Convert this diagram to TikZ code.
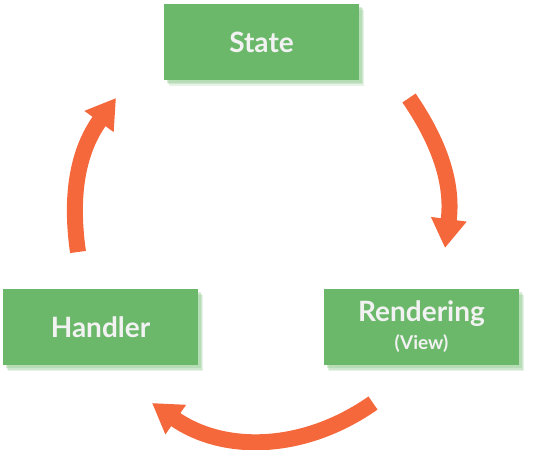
\documentclass[tikz,border=0pt]{standalone}
\usepackage{fontspec}
\setmainfont{Lato}
\usetikzlibrary{arrows.meta,shadows}

\definecolor{boxgreen}{RGB}{107,184,107}
\definecolor{shadegreen}{RGB}{150,205,150}
\definecolor{loopred}{RGB}{245,104,60}
\definecolor{textwhite}{RGB}{242,242,242}

\tikzset{
    stage/.style={fill=boxgreen, minimum width=195pt, minimum height=76pt,
        inner sep=0pt, text=textwhite, align=center,
        font=\bfseries\fontsize{28}{30}\selectfont,
        drop shadow={shadow xshift=5pt, shadow yshift=-6pt, fill=shadegreen, opacity=0.25},
        drop shadow={shadow xshift=4pt, shadow yshift=-4.5pt, fill=shadegreen, opacity=0.3},
        drop shadow={shadow xshift=2.5pt, shadow yshift=-3pt, fill=shadegreen, opacity=0.4}},
    flow/.style={draw=loopred, line width=16pt,
        -{Triangle[width=34pt, length=29pt]}}
}

\begin{document}
\begin{tikzpicture}[x=1pt, y=1pt]
    \useasboundingbox (0, 0) rectangle (534, -449);

    \node[stage] (state) at (261.5, -42) {State};
    \node[stage] (handler) at (100.5, -327) {Handler};
    \node[stage] (render) at (421.5, -327)
        {Rendering\\[-2pt]{\fontsize{19}{22}\selectfont(View)}};

    \coordinate (rtail) at (409, -98);
    \coordinate (rtip) at (445, -248);
    \coordinate (btail) at (373, -403);
    \coordinate (btip) at (152, -403);
    \coordinate (ltail) at (78, -252);
    \coordinate (ltip) at (116, -98);

    \draw[flow] (rtail) to[bend left=21] (rtip);
    \draw[flow] (btail) to[bend left=35] (btip);
    \draw[flow] (ltail) to[bend left=22] (ltip);
\end{tikzpicture}
\end{document}
